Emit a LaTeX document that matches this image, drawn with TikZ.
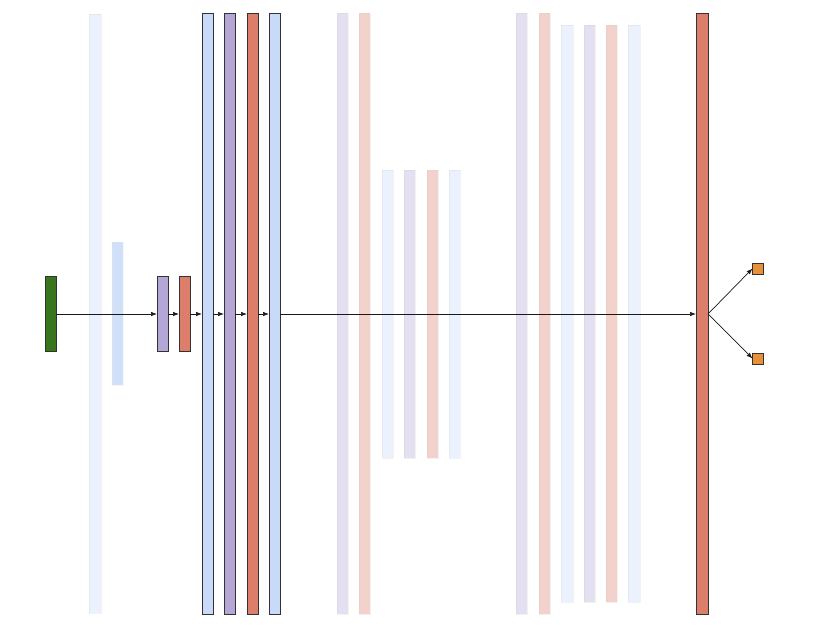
\documentclass[tikz,border=0pt]{standalone}
\usetikzlibrary{arrows.meta}
\definecolor{cblue}{HTML}{C9DAF8}
\definecolor{cpurple}{HTML}{B4A7D6}
\definecolor{cred}{HTML}{DD7E6B}
\definecolor{cgreen}{HTML}{38761D}
\definecolor{corange}{HTML}{E69138}
\tikzset{
  x=1pt, y=-1pt,
  bar/.style={rectangle, inner sep=0pt, outer sep=0pt, draw=black!80, line width=0.7pt, minimum width=11pt},
  fadedbar/.style={bar, draw=black!25, fill opacity=0.35, draw opacity=0.2},
  conn/.style={draw=black!90, line width=0.7pt, -{Latex[length=6pt,width=4.5pt]}},
}
\begin{document}
\begin{tikzpicture}
\useasboundingbox (0,0) rectangle (830,628);
% faded background bars
\node[fadedbar, fill=cblue, minimum height=599pt, minimum width=12pt] (f1) at (95,313.5) {};
\node[bar, draw=black!10, fill=cblue, fill opacity=0.85, draw opacity=0.3, minimum height=143pt] (lb) at (117.5,313.5) {};
\node[fadedbar, fill=cpurple, minimum height=601pt] (f2) at (342.5,313.5) {};
\node[fadedbar, fill=cred, minimum height=601pt] (f3) at (364.5,313.5) {};
\node[fadedbar, fill=cblue, minimum height=288pt] (m1) at (387.5,314) {};
\node[fadedbar, fill=cpurple, minimum height=288pt] (m2) at (409.5,314) {};
\node[fadedbar, fill=cred, minimum height=288pt] (m3) at (432.5,314) {};
\node[fadedbar, fill=cblue, minimum height=288pt] (m4) at (454.5,314) {};
\node[fadedbar, fill=cpurple, minimum height=601pt] (f4) at (521.5,313.5) {};
\node[fadedbar, fill=cred, minimum height=601pt] (f5) at (544.5,313.5) {};
\node[fadedbar, fill=cblue, minimum height=577pt, minimum width=12pt] (g1) at (567,313.5) {};
\node[fadedbar, fill=cpurple, minimum height=577pt] (g2) at (589.5,313.5) {};
\node[fadedbar, fill=cred, minimum height=577pt] (g3) at (611.5,313.5) {};
\node[fadedbar, fill=cblue, minimum height=577pt, minimum width=12pt] (g4) at (634,313.5) {};
% main nodes
\node[bar, fill=cgreen, minimum height=75pt] (in) at (50.5,314) {};
\node[bar, fill=cpurple, minimum height=75pt] (p1) at (162.5,314) {};
\node[bar, fill=cred, minimum height=75pt] (r1) at (184.5,314) {};
\node[bar, fill=cblue, minimum height=601pt] (b1) at (207.5,314) {};
\node[bar, fill=cpurple, minimum height=601pt] (b2) at (229.5,314) {};
\node[bar, fill=cred, minimum height=601pt] (b3) at (252.5,314) {};
\node[bar, fill=cblue, minimum height=601pt] (b4) at (274.5,314) {};
\node[bar, fill=cred, minimum height=601pt, minimum width=12pt] (out) at (702,314) {};
\node[bar, fill=corange, minimum width=11pt, minimum height=11pt] (o1) at (758,268.5) {};
\node[bar, fill=corange, minimum width=11pt, minimum height=11pt] (o2) at (758,358.5) {};
% connectors
\draw[conn] (in.east) -- (p1.west);
\draw[conn] (p1.east) -- (r1.west);
\draw[conn] (r1.east) -- (b1.west);
\draw[conn] (b1.east) -- (b2.west);
\draw[conn] (b2.east) -- (b3.west);
\draw[conn] (b3.east) -- (b4.west);
\draw[conn] (b4.east) -- (out.west);
\draw[conn] (out.east) -- (o1.west);
\draw[conn] (out.east) -- (o2.west);
\end{tikzpicture}
\end{document}
